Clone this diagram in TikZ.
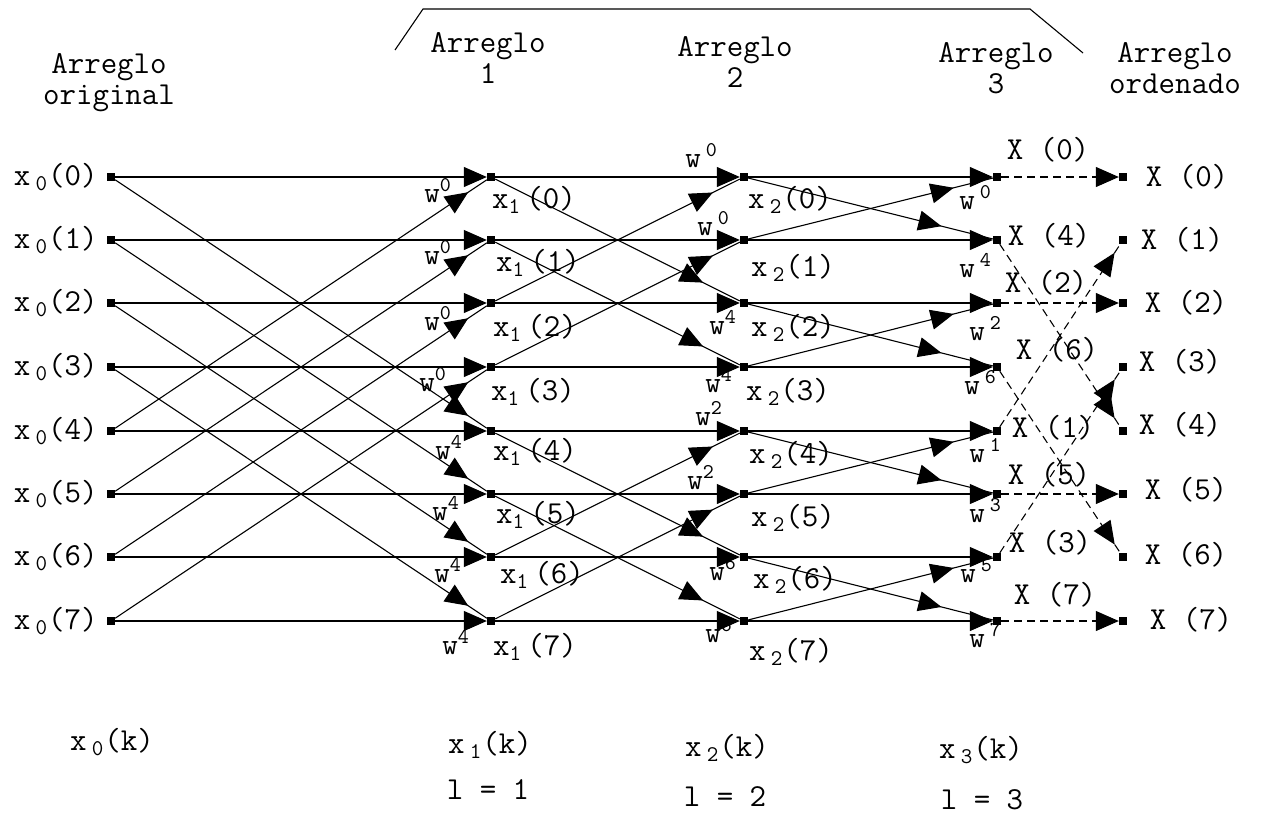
\documentclass[tikz,border=0pt]{standalone}
\usetikzlibrary{arrows.meta,decorations.markings}
\begin{document}
\begin{tikzpicture}[x=0.5pt,y=-0.5pt,
  dot/.style={rectangle,fill=black,inner sep=0pt,minimum size=3.8pt},
  wire/.style={line width=0.55pt},
  tipend/.style={-{Triangle[length=11.5pt,width=10pt]}},
  midtip/.style={postaction={decorate},decoration={markings,mark=at position #1 with {\arrow{Triangle[length=11.5pt,width=10pt]}}}},
  dashline/.style={dash pattern=on 4pt off 2.5pt},
  lbl/.style={font=\fontsize{16}{15.5}\selectfont\ttfamily,inner sep=0pt},
  wlbl/.style={font=\fontsize{15}{15}\selectfont\ttfamily,inner sep=0pt,anchor=base west},
  hdr/.style={lbl,align=center}]
\useasboundingbox (0,0) rectangle (1261,814);

% grid nodes
\foreach \i/\y in {0/177,1/240,2/303,3/367,4/431,5/494,6/557,7/621} {
  \node[dot] (a\i) at (111,\y) {};
  \node[dot] (b\i) at (491,\y) {};
  \node[dot] (c\i) at (744,\y) {};
  \node[dot] (d\i) at (997,\y) {};
  \node[dot] (e\i) at (1123,\y) {};
  \node[lbl,anchor=east] (la\i) at (98,\y) {x\,\textsubscript{0}(\i)};
}

% horizontal connectors
\foreach \i in {0,...,7} {
  \draw[wire,tipend] (a\i) -- (b\i);
  \draw[wire,tipend] (b\i) -- (c\i);
  \draw[wire,tipend] (c\i) -- (d\i);
}
% stage 1 diagonals
\foreach \i/\j in {0/4,1/5,2/6,3/7,4/0,5/1,6/2,7/3}
  \draw[wire,midtip=0.95] (a\i) -- (b\j);
% stage 2 diagonals
\foreach \i/\j in {0/2,1/3,4/6,5/7}
  \draw[wire,midtip=0.85] (b\i) -- (c\j);
\foreach \i/\j in {2/0,3/1,6/4,7/5}
  \draw[wire,midtip=0.89] (b\i) -- (c\j);
% stage 3 diagonals
\foreach \i/\j in {0/1,2/3,4/5,6/7}
  \draw[wire,midtip=0.79] (c\i) -- (d\j);
\foreach \i/\j in {1/0,3/2,5/4,7/6}
  \draw[wire,midtip=0.84] (c\i) -- (d\j);
% bit reversal (dashed)
\foreach \i in {0,2,5,7}
  \draw[wire,dashline,tipend] (d\i) -- (e\i);
\foreach \i/\j in {1/4,3/6,4/1,6/3}
  \draw[wire,dashline,midtip=0.955] (d\i) -- (e\j);

% x1 labels
\foreach \i/\px/\py in {0/534/200,1/538/263,2/535/328,3/533/392,4/535/452,5/538/515,6/542/575,7/535/647}
  \node[lbl] (lb\i) at (\px,\py) {x\textsubscript{1}\,(\i)};
% x2 labels
\foreach \i/\px/\py in {0/790/200,1/793/268,2/793/328,3/788/392,4/791/455,5/793/518,6/795/580,7/791/652}
  \node[lbl] (lc\i) at (\px,\py) {x\,\textsubscript{2}(\i)};
% stage 3 outputs
\foreach \i/\px/\py in {0/1048/150,4/1049/236,2/1046/283,6/1057/350,1/1053/428,5/1049/475,3/1050/543,7/1055/595}
  \node[lbl] (ld\i) at (\px,\py) {X (\i)};
% ordered outputs
\foreach \i/\px/\py in {0/1187/177,1/1182/240,2/1186/303,3/1180/362,4/1180/425,5/1186/490,6/1186/555,7/1191/620}
  \node[lbl] (le\i) at (\px,\py) {X (\i)};

% twiddle factors
\foreach \k/\px/\py/\s in {0/424/202/0,1/424/264/0,2/424/330/0,3/419/391/0,4/435/459/4,5/432/520/4,6/434/582/4,7/442/654/4}
  \node[wlbl] (wa\k) at (\px,\py) {w\textsuperscript{\s}};
\foreach \k/\px/\py/\s in {0/685/167/0,1/697/235/0}
  \node[wlbl] (wb\k) at (\px,\py) {w\,\textsuperscript{\s}};
\foreach \k/\px/\py/\s in {2/709/334/4,3/705/392/4,4/695/425/2,5/687/489/2,6/709/580/6,7/705/642/6}
  \node[wlbl] (wb\k) at (\px,\py) {w\textsuperscript{\s}};
\foreach \k/\px/\py/\s in {0/959/209/0,1/959/277/4,2/969/340/2,3/964/394/6,4/969/462/1,5/969/522/3,6/960/582/5,7/969/647/7}
  \node[wlbl] (wc\k) at (\px,\py) {w\,\textsuperscript{\s}};

% headers
\node[hdr] (h0) at (109,83) {Arreglo\\original};
\node[hdr] (h1) at (488,58) {Arreglo\\1};
\node[hdr] (h2) at (735,62) {Arreglo\\2};
\node[hdr] (h3) at (996,68) {Arreglo\\3};
\node[hdr] (h4) at (1175,68) {Arreglo\\ordenado};

% bracket
\coordinate (br1) at (395,50);
\coordinate (br2) at (423,9);
\coordinate (br3) at (1030,9);
\coordinate (br4) at (1083,53);
\draw[wire] (br1) -- (br2) -- (br3) -- (br4);

% bottom labels
\node[lbl] (f0) at (112,742) {x\,\textsubscript{0}(k)};
\node[lbl] (f1) at (490,745) {x\,\textsubscript{1}(k)};
\node[lbl] (g1) at (488,790) {l = 1};
\node[lbl] (f2) at (727,748) {x\,\textsubscript{2}(k)};
\node[lbl] (g2) at (725,797) {l = 2};
\node[lbl] (f3) at (981,750) {x\,\textsubscript{3}(k)};
\node[lbl] (g3) at (982,800) {l = 3};
\end{tikzpicture}
\end{document}
